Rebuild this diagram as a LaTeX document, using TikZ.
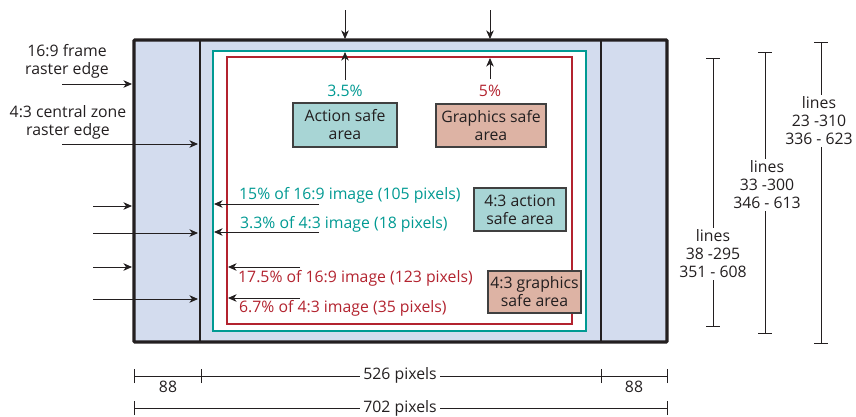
\documentclass[tikz,border=0pt]{standalone}
\usepackage{fontspec}
\setmainfont{Open Sans}
\usetikzlibrary{arrows.meta}
\definecolor{frameblue}{HTML}{D3DCEE}
\definecolor{tealc}{HTML}{009A93}
\definecolor{redc}{HTML}{B3232F}
\definecolor{actfill}{HTML}{A8D5D5}
\definecolor{grafill}{HTML}{DDB3A4}
\definecolor{txt}{HTML}{231F20}
\begin{document}
\begin{tikzpicture}[x=1pt,y=-1pt,
  font=\fontsize{15.8}{18}\selectfont,
  arr/.style={-{Stealth[length=8.5pt,width=7.5pt,inset=2.5pt]}, line width=0.9pt, draw=txt},
  box/.style={draw=black!75, line width=1.2pt, align=center, inner sep=0pt, text=txt},
  lbl/.style={align=center, text=txt, inner sep=1pt},
  dimline/.style={line width=0.8pt, draw=txt},
  tealtxt/.style={text=tealc, inner sep=0pt, anchor=west},
  redtxt/.style={text=redc, inner sep=0pt, anchor=west},
  gapnode/.style={fill=white, align=center, text=txt, inner sep=2pt}]
\useasboundingbox (0,0) rectangle (856,416);
% frame
\fill[frameblue] (134,40) rectangle (667,342);
\filldraw[fill=white, draw=tealc, line width=2.4pt] (213,51) rectangle (586,331);
\draw[redc, line width=2.2pt] (227,57) rectangle (572,324);
\draw[line width=1.8pt, txt] (200,40) -- (200,342);
\draw[line width=1.8pt, txt] (601,40) -- (601,342);
\draw[line width=3.2pt, txt, rounded corners=1pt] (134,40) rectangle (667,342);
% coordinates
\coordinate (topA) at (345,10);  \coordinate (frA) at (345,39);
\coordinate (lowA) at (345,80);  \coordinate (tealA) at (345,52);
\coordinate (topB) at (490,10);  \coordinate (frB) at (490,39);
\coordinate (lowB) at (490,79);  \coordinate (redB) at (490,58);
% top arrows
\draw[arr] (topA) -- (frA);
\draw[arr] (lowA) -- (tealA);
\draw[arr] (topB) -- (frB);
\draw[arr] (lowB) -- (redB);
\node[text=tealc, inner sep=0pt] (pA) at (345,91) {3.5\%};
\node[text=redc, inner sep=0pt] (pB) at (490,91) {5\%};
% boxes
\node[box, fill=actfill, minimum width=104pt, minimum height=44pt] (act) at (345,125) {Action safe\\area};
\node[box, fill=grafill, minimum width=110pt, minimum height=43pt] (gra) at (491,125.5) {Graphics safe\\area};
\node[box, fill=actfill, minimum width=92pt, minimum height=43pt] (act43) at (520,209.5) {4:3 action\\safe area};
\node[box, fill=grafill, minimum width=93pt, minimum height=42pt] (gra43) at (534.5,292) {4:3 graphics\\safe area};
% left labels
\node[lbl] (l169) at (67,61) {16:9 frame\\raster edge};
\node[lbl] (l43) at (68,122) {4:3 central zone\\raster edge};
\coordinate (a1s) at (62,84);  \coordinate (a1e) at (132,84);
\coordinate (a2s) at (62,144); \coordinate (a2e) at (198,144);
\draw[arr] (a1s) -- (a1e);
\draw[arr] (a2s) -- (a2e);
\coordinate (b1s) at (93,206); \coordinate (b1e) at (132,206);
\coordinate (b2s) at (93,233); \coordinate (b2e) at (198,233);
\coordinate (b3s) at (93,267); \coordinate (b3e) at (132,267);
\coordinate (b4s) at (93,299); \coordinate (b4e) at (198,299);
\draw[arr] (b1s) -- (b1e);
\draw[arr] (b2s) -- (b2e);
\draw[arr] (b3s) -- (b3e);
\draw[arr] (b4s) -- (b4e);
% inner percentage arrows
\node[tealtxt] (t1) at (239,195) {15\% of 16:9 image (105 pixels)};
\node[tealtxt] (t2) at (240,224) {3.3\% of 4:3 image (18 pixels)};
\node[redtxt] (r1) at (238,278) {17.5\% of 16:9 image (123 pixels)};
\node[redtxt] (r2) at (239,308) {6.7\% of 4:3 image (35 pixels)};
\coordinate (c1s) at (319,204); \coordinate (c1e) at (214,204);
\coordinate (c2s) at (319,232); \coordinate (c2e) at (214,232);
\coordinate (c3s) at (300,267); \coordinate (c3e) at (228,267);
\coordinate (c4s) at (300,298); \coordinate (c4e) at (228,298);
\draw[arr] (c1s) -- (c1e);
\draw[arr] (c2s) -- (c2e);
\draw[arr] (c3s) -- (c3e);
\draw[arr] (c4s) -- (c4e);
% right dimension lines
\coordinate (v1t) at (713,58);  \coordinate (v1b) at (713,326);
\coordinate (v2t) at (765,52);  \coordinate (v2b) at (765,333);
\coordinate (v3t) at (821,42);  \coordinate (v3b) at (821,343);
\draw[dimline] (v1t) -- (v1b);
\draw[dimline] ([xshift=-7pt]v1t) -- ([xshift=7pt]v1t);
\draw[dimline] ([xshift=-7pt]v1b) -- ([xshift=7pt]v1b);
\draw[dimline] (v2t) -- (v2b);
\draw[dimline] ([xshift=-7pt]v2t) -- ([xshift=7pt]v2t);
\draw[dimline] ([xshift=-7pt]v2b) -- ([xshift=7pt]v2b);
\draw[dimline] (v3t) -- (v3b);
\draw[dimline] ([xshift=-7pt]v3t) -- ([xshift=7pt]v3t);
\draw[dimline] ([xshift=-7pt]v3b) -- ([xshift=7pt]v3b);
\node[gapnode] (n1) at (713,254) {lines\\38 -295\\351 - 608};
\node[gapnode] (n2) at (767,185) {lines\\33 -300\\346 - 613};
\node[gapnode, inner xsep=0pt] (n3) at (819,121) {lines\\23 -310\\336 - 623};
% bottom dimensions
\coordinate (h1) at (134,376); \coordinate (h2) at (201,376);
\coordinate (h3) at (601,376); \coordinate (h4) at (667,376);
\draw[dimline] (h1) -- (h4);
\foreach \p in {h1,h2,h3,h4} \draw[dimline] ([yshift=-7pt]\p) -- ([yshift=7pt]\p);
\node[gapnode, inner sep=3pt] (w526) at (400,375) {526 pixels};
\node[lbl] (w88a) at (168,387) {88};
\node[lbl] (w88b) at (634,387) {88};
\coordinate (g1) at (134,408); \coordinate (g2) at (667,408);
\draw[dimline] (g1) -- (g2);
\draw[dimline] ([yshift=-7pt]g1) -- ([yshift=7pt]g1);
\draw[dimline] ([yshift=-7pt]g2) -- ([yshift=7pt]g2);
\node[gapnode, inner sep=3pt] (w702) at (400,408) {702 pixels};
\end{tikzpicture}
\end{document}
